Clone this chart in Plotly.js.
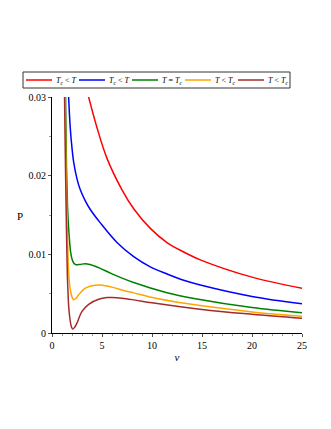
<!DOCTYPE html>
<html>
<head>
<meta charset="utf-8">
<script src="https://cdn.plot.ly/plotly-3.0.1.min.js"></script>
<style>html,body{margin:0;padding:0;background:#fff;}#chart{width:331px;height:429px;}</style>
</head>
<body>
<div id="chart"></div>
<script>
// Series names
const names = [
  "<i>T</i><sub><i>c</i></sub> &lt; <i>T</i>",
  "<i>T</i><sub><i>c</i></sub> &lt; <i>T</i>",
  "<i>T</i> = <i>T</i><sub><i>c</i></sub>",
  "<i>T</i> &lt; <i>T</i><sub><i>c</i></sub>",
  "<i>T</i> &lt; <i>T</i><sub><i>c</i></sub>"
];
const colors = ["#ff0000", "#0000ff", "#008000", "#ffa500", "#a52a2a"];

// Red
const vRed = [3.62, 4.5, 5.5, 7.0, 8.17, 9.83, 11.5, 13.17, 14.83, 20, 25];
const pRed = [0.0302, 0.0261, 0.0222, 0.0182, 0.0158, 0.0133, 0.0115, 0.0103, 0.0093, 0.0071, 0.0057];
// Blue
const vBlue = [1.64, 1.75, 1.83, 2.0, 2.17, 2.5, 2.83, 3.33, 3.83, 4.83, 6.5, 8.17, 9.83, 11.5, 13.17, 14.83, 20, 25];
const pBlue = [0.0305, 0.0277, 0.0260, 0.0235, 0.0217, 0.0196, 0.0182, 0.0168, 0.0157, 0.0140, 0.0115, 0.0097, 0.0084, 0.0075, 0.0067, 0.0061, 0.00465, 0.00371];
// Green
const vGreen = [1.35, 1.45, 1.55, 1.65, 1.75, 1.85, 2.0, 2.17, 2.4, 2.8, 3.33, 3.8, 4.17, 4.83, 6.0, 8.17, 11.5, 14.2, 20, 25];
const pGreen = [0.0305, 0.021, 0.0162, 0.0136, 0.0118, 0.0104, 0.0094, 0.0089, 0.00868, 0.00872, 0.0088, 0.0087, 0.00855, 0.00822, 0.00752, 0.00642, 0.00512, 0.0044, 0.00325, 0.00258];
// Orange
const vOrange = [1.3, 1.4, 1.5, 1.6, 1.67, 1.83, 2.0, 2.17, 2.4, 2.67, 3.33, 4.33, 4.83, 5.17, 6.0, 7.33, 8.17, 10.5, 15, 20, 25];
const pOrange = [0.0305, 0.021, 0.0145, 0.0098, 0.0076, 0.0055, 0.00456, 0.00422, 0.0044, 0.00486, 0.0057, 0.00608, 0.0061, 0.00604, 0.00583, 0.00535, 0.0051, 0.00438, 0.00345, 0.00268, 0.00212];
// Brown
const vBrown = [1.25, 1.35, 1.45, 1.53, 1.6, 1.67, 1.83, 1.95, 2.07, 2.25, 2.5, 3.0, 3.67, 4.67, 5.5, 6.0, 7.0, 8.33, 10, 15, 20, 25];
const pBrown = [0.0305, 0.021, 0.0128, 0.0076, 0.0052, 0.00337, 0.00147, 0.00075, 0.0005, 0.0007, 0.00127, 0.00274, 0.00365, 0.00428, 0.0045, 0.00451, 0.00442, 0.00418, 0.00385, 0.0030, 0.00238, 0.00186];

const xs = [vRed, vBlue, vGreen, vOrange, vBrown];
const ys = [pRed, pBlue, pGreen, pOrange, pBrown];

const xTicks = [0, 5, 10, 15, 20, 25];
const yTicks = [0, 0.01, 0.02, 0.03];
const yTickText = ["0", "0.01", "0.02", "0.03"];

const traces = xs.map((x, i) => ({
  x: x, y: ys[i], type: "scatter", mode: "lines", name: names[i],
  line: {color: colors[i], width: 1.5, shape: "spline", smoothing: 1}
}));

// layout geometry (pixels -> paper)
const W = 331, H = 429, ML = 52, MR = 29, MT = 97, MB = 96;
const PW = W - ML - MR, PH = H - MT - MB;
const px = p => (p - ML) / PW;
const py = p => (H - MB - p) / PH;

const fontFam = "Liberation Serif, Times New Roman, serif";

// manual legend box
const shapes = [{
  type: "rect", xref: "paper", yref: "paper",
  x0: px(23), x1: px(290), y0: py(88), y1: py(72),
  line: {color: "#333", width: 1}, fillcolor: "rgba(0,0,0,0)"
}];
const annotations = [{
  text: "P", xref: "paper", yref: "paper", x: px(19.5), y: py(216),
  xanchor: "center", yanchor: "middle", showarrow: false,
  font: {family: fontFam, size: 11, color: "#000"}
}];
names.forEach((n, i) => {
  const x0 = 26 + 53 * i;
  shapes.push({
    type: "line", xref: "paper", yref: "paper",
    x0: px(x0), x1: px(x0 + 26), y0: py(80), y1: py(80),
    line: {color: colors[i], width: 1.5}
  });
  annotations.push({
    text: n, xref: "paper", yref: "paper", x: px(x0 + 28), y: py(80.5),
    xanchor: "left", yanchor: "middle", showarrow: false,
    font: {family: fontFam, size: 8, color: "#000"}
  });
});

const layout = {
  width: W, height: H,
  margin: {l: ML, r: MR, t: MT, b: MB},
  paper_bgcolor: "#fff", plot_bgcolor: "#fff",
  font: {family: fontFam, size: 10, color: "#000"},
  showlegend: false,
  xaxis: {
    range: [0, 25], tickvals: xTicks, showgrid: false, zeroline: false,
    showline: true, linecolor: "#000", linewidth: 1,
    ticks: "outside", ticklen: 3, tickcolor: "#555",
    minor: {dtick: 1, ticks: "outside", ticklen: 2, tickcolor: "#999"},
    title: {text: "<i>v</i>", font: {family: fontFam, size: 11}, standoff: 3}
  },
  yaxis: {
    range: [0, 0.03], tickvals: yTicks, ticktext: yTickText, showgrid: false, zeroline: false,
    showline: true, linecolor: "#000", linewidth: 1,
    ticks: "outside", ticklen: 3, tickcolor: "#555",
    minor: {dtick: 0.005, ticks: "outside", ticklen: 2, tickcolor: "#999"}
  },
  shapes: shapes,
  annotations: annotations
};

Plotly.newPlot("chart", traces, layout, {displayModeBar: false, staticPlot: true});
</script>
</body>
</html>
